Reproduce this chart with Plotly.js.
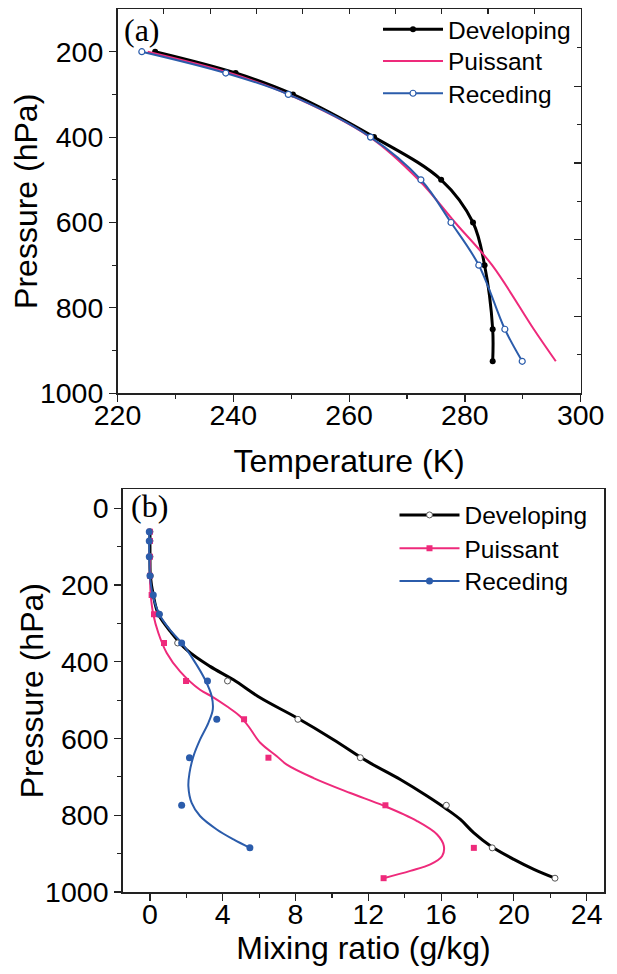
<!DOCTYPE html>
<html><head><meta charset="utf-8">
<script src="https://cdn.plot.ly/plotly-3.0.1.min.js"></script>
<style>html,body{margin:0;padding:0;background:#fff;} #chart{width:617px;height:974px;}</style>
</head><body><div id="chart"></div>
<script>
// ---------- Panel (a): temperature profiles ----------
const pLevelsA = [200, 250, 300, 400, 500, 600, 700, 850, 925];
const tempDeveloping = [226.5, 240.4, 250.3, 264.3, 275.9, 281.4, 283.4, 284.8, 284.8];
const tempPuissant   = [225.2, 239.4, 249.5, 263.6, 272.0, 278.3, 284.7, 291.9, 295.7];
const tempReceding   = [224.2, 238.7, 249.5, 263.7, 272.4, 277.6, 282.4, 286.9, 289.9];

// ---------- Panel (b): mixing ratio profiles ----------
const pLevelsB = [61, 85, 126, 176, 226, 276, 351, 450, 550, 650, 774, 885, 964];
const mixDevelopingPts = [0.0, 0.0, 0.0, 0.02, 0.15, 0.51, 1.52, 4.26, 8.13, 11.56, 16.29, 18.81, 22.26];
const mixPuissantPts   = [0.0, 0.0, 0.0, 0.0, 0.09, 0.22, 0.77, 1.98, 5.17, 6.51, 12.94, 17.80, 12.84];
const mixRecedingPts   = [-0.04, -0.04, -0.04, 0.0, 0.18, 0.51, 1.74, 3.16, 3.67, 2.17, 1.74, 5.49, null];

// smoothed curves
const curveDevP = [61, 126, 176, 226, 276, 325, 369, 412, 447, 494, 546, 603, 659, 707, 750, 785, 811, 846, 880, 915, 941, 964];
const curveDevX = [0.0, 0.0, 0.02, 0.18, 0.46, 1.19, 2.02, 3.30, 4.59, 6.06, 8.07, 10.09, 11.93, 13.76, 15.23, 16.33, 17.06, 17.80, 18.72, 20.0, 21.1, 22.26];
const curvePuiP = [126, 176, 226, 276, 325, 377, 425, 473, 490, 516, 542, 568, 611, 646, 668, 703, 742, 775, 815, 850, 880, 906, 928, 945, 964];
const curvePuiX = [0.0, 0.0, 0.04, 0.18, 0.46, 0.92, 1.65, 2.75, 3.39, 4.22, 4.95, 5.41, 6.06, 6.97, 7.52, 8.99, 11.01, 12.84, 14.68, 15.78, 16.15, 16.06, 15.41, 14.31, 12.84];
const curveRecP = [61, 126, 176, 226, 276, 317, 351, 395, 447, 490, 525, 559, 603, 646, 690, 724, 768, 802, 837, 863, 885];
const curveRecX = [-0.04, -0.04, 0.0, 0.15, 0.51, 1.10, 1.74, 2.39, 3.03, 3.39, 3.45, 3.21, 2.75, 2.39, 2.17, 2.11, 2.29, 2.75, 3.67, 4.59, 5.49];

const BLACK = '#000000', PINK = '#ee2a7b', BLUE = '#2b5cab';
const FONT = "'Liberation Sans', Arial, sans-serif";

const traces = [
  // panel a
  {x: tempDeveloping, y: pLevelsA, name: 'Developing', mode: 'lines+markers',
   line: {color: BLACK, width: 3, shape: 'spline'}, marker: {color: BLACK, size: 6, symbol: 'circle'},
   xaxis: 'x', yaxis: 'y', legend: 'legend'},
  {x: tempPuissant, y: pLevelsA, name: 'Puissant', mode: 'lines',
   line: {color: PINK, width: 2, shape: 'spline'}, xaxis: 'x', yaxis: 'y', legend: 'legend2'},
  {x: tempReceding, y: pLevelsA, name: 'Receding', mode: 'lines+markers',
   line: {color: BLUE, width: 2, shape: 'spline'},
   marker: {color: '#ffffff', size: 6, symbol: 'circle', line: {color: BLUE, width: 1.2}},
   xaxis: 'x', yaxis: 'y', legend: 'legend3'},
  // helper for extra inside ticks (top/right) of panel a
  {x: [], y: [], xaxis: 'x3', yaxis: 'y3', showlegend: false, hoverinfo: 'skip', mode: 'markers'},

  // panel b curves
  {x: curveDevX, y: curveDevP, mode: 'lines', line: {color: BLACK, width: 3, shape: 'spline'},
   showlegend: false, xaxis: 'x2', yaxis: 'y2'},
  {x: curvePuiX, y: curvePuiP, mode: 'lines', line: {color: PINK, width: 2, shape: 'spline'},
   showlegend: false, xaxis: 'x2', yaxis: 'y2'},
  {x: curveRecX, y: curveRecP, mode: 'lines', line: {color: BLUE, width: 2, shape: 'spline'},
   showlegend: false, xaxis: 'x2', yaxis: 'y2'},
  // panel b points
  {x: mixDevelopingPts, y: pLevelsB, mode: 'markers', showlegend: false,
   marker: {color: '#ffffff', size: 6, symbol: 'circle', line: {color: '#555555', width: 1}},
   xaxis: 'x2', yaxis: 'y2'},
  {x: mixPuissantPts, y: pLevelsB, mode: 'markers', showlegend: false,
   marker: {color: PINK, size: 6, symbol: 'square'}, xaxis: 'x2', yaxis: 'y2'},
  {x: mixRecedingPts, y: pLevelsB, mode: 'markers', showlegend: false,
   marker: {color: BLUE, size: 7, symbol: 'circle'}, xaxis: 'x2', yaxis: 'y2'},
  // legend entries for panel b
  {x: [null], y: [null], name: 'Developing', mode: 'lines+markers', xaxis: 'x2', yaxis: 'y2',
   line: {color: BLACK, width: 3}, marker: {color: '#ffffff', size: 6, line: {color: '#555555', width: 1}}, legend: 'legend4'},
  {x: [null], y: [null], name: 'Puissant', mode: 'lines+markers', xaxis: 'x2', yaxis: 'y2',
   line: {color: PINK, width: 2}, marker: {color: PINK, size: 6, symbol: 'square'}, legend: 'legend5'},
  {x: [null], y: [null], name: 'Receding', mode: 'lines+markers', xaxis: 'x2', yaxis: 'y2',
   line: {color: BLUE, width: 2}, marker: {color: BLUE, size: 7}, legend: 'legend6'}
];

const axCommon = {
  showline: true, linecolor: '#222', linewidth: 1.5, mirror: true,
  ticks: 'outside', ticklen: 7, tickwidth: 1.2, tickcolor: '#222',
  showgrid: false, zeroline: false, automargin: false,
  tickfont: {family: FONT, size: 28.5, color: '#000'}
};
const titleFont = {family: FONT, size: 32, color: '#000'};

function leg(xPx, yPx) {
  return {x: xPx/617, xanchor: 'left', y: 1 - yPx/974, yanchor: 'middle', bgcolor: 'rgba(0,0,0,0)',
    font: {family: FONT, size: 24.5, color: '#000'}, itemwidth: 60};
}

const layout = {
  width: 617, height: 974,
  margin: {l: 0, r: 0, t: 0, b: 0},
  paper_bgcolor: '#fff', plot_bgcolor: '#fff',
  xaxis: Object.assign({}, axCommon, {
    domain: [117.5/617, 580.7/617], anchor: 'y', range: [220, 300], dtick: 20, tick0: 0,
    ticklabelstandoff: -11,
    minor: {dtick: 10, ticks: 'outside', ticklen: 4, tickcolor: '#222'},
    title: {text: 'Temperature (K)', font: titleFont, standoff: 19}
  }),
  yaxis: Object.assign({}, axCommon, {
    domain: [(974-393.3)/974, (974-9.3)/974], anchor: 'x', range: [1000, 100.7], dtick: 200, tick0: 0,
    minor: {dtick: 100, ticks: 'outside', ticklen: 4, tickcolor: '#222'},
    title: {text: 'Pressure (hPa)', font: titleFont, standoff: 0}
  }),
  xaxis3: {overlaying: 'x', anchor: 'y3', side: 'top', range: [0, 10], dtick: 1,
    ticks: 'inside', ticklen: 5, tickcolor: '#222', tickwidth: 1.2,
    showticklabels: false, showline: false, showgrid: false, zeroline: false, automargin: false},
  yaxis3: {overlaying: 'y', anchor: 'x3', side: 'right', range: [0, 10], dtick: 2,
    ticks: 'inside', ticklen: 7, tickcolor: '#222', tickwidth: 1.2,
    minor: {dtick: 1, ticks: 'inside', ticklen: 4, tickcolor: '#222'},
    showticklabels: false, showline: false, showgrid: false, zeroline: false, automargin: false},
  xaxis2: Object.assign({}, axCommon, {
    domain: [122.7/617, 604.3/617], anchor: 'y2', range: [-1.5, 24.97], dtick: 4, tick0: 0,
    ticklabelstandoff: -11,
    minor: {dtick: 2, ticks: 'outside', ticklen: 4, tickcolor: '#222'},
    title: {text: 'Mixing ratio (g/kg)', font: titleFont, standoff: 3}
  }),
  yaxis2: Object.assign({}, axCommon, {
    domain: [(974-892)/974, (974-489.3)/974], anchor: 'x2', range: [1000, -49.5], dtick: 200, tick0: 0,
    minor: {dtick: 100, ticks: 'outside', ticklen: 4, tickcolor: '#222'},
    title: {text: 'Pressure (hPa)', font: titleFont, standoff: 0}
  }),
  legend: leg(378, 29.3),
  legend2: leg(378, 61),
  legend3: leg(378, 93.3),
  legend4: leg(394.5, 515),
  legend5: leg(394.5, 548.3),
  legend6: leg(394.5, 581),
  annotations: [
    {text: '(a)', xref: 'paper', yref: 'paper', x: 122/617, y: 1 - 30/974, xanchor: 'left', yanchor: 'middle',
     showarrow: false, font: {family: "'Liberation Serif', 'Times New Roman', serif", size: 32, color: '#000'}},
    {text: '(b)', xref: 'paper', yref: 'paper', x: 129/617, y: 1 - 506/974, xanchor: 'left', yanchor: 'middle',
     showarrow: false, font: {family: "'Liberation Serif', 'Times New Roman', serif", size: 32, color: '#000'}}
  ],
  showlegend: true
};

Plotly.newPlot('chart', traces, layout, {staticPlot: true, displayModeBar: false}).then(function (gd) {
  // nudge the vertical axis titles a little closer to the axes, as in the reference
  gd.querySelectorAll('.g-ytitle, .g-y2title').forEach(function (g) {
    g.setAttribute('transform', 'translate(8,0)');
  });
});
</script>
</body></html>
